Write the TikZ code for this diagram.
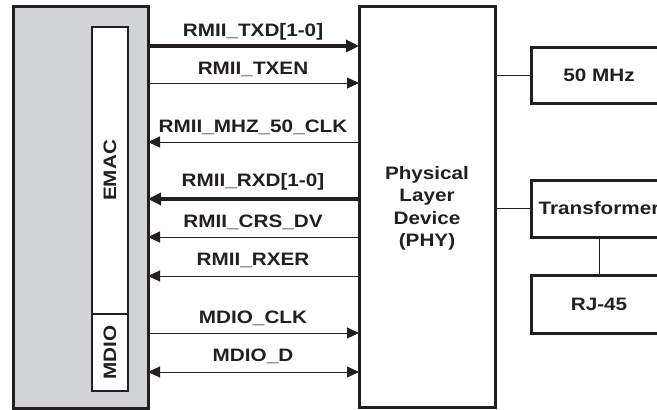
\documentclass[tikz,border=0pt]{standalone}
\usepackage{fontspec}
\setmainfont{Liberation Sans}[FakeStretch=1.15]
\usetikzlibrary{arrows.meta}
\definecolor{ink}{HTML}{231F20}
\definecolor{macgray}{HTML}{D1D3D4}
\begin{document}
\begin{tikzpicture}[x=1pt,y=-1pt,
  font=\fontsize{18}{22.5}\selectfont\bfseries,
  box/.style={draw=ink,line width=3pt,anchor=north west,outer sep=0pt,inner sep=0pt},
  inbox/.style={draw=ink,line width=2pt,fill=white,anchor=north west,outer sep=0pt,inner sep=0pt},
  sig/.style={draw=ink,line width=1pt,-{Triangle[length=12pt,width=11pt]}},
  bus/.style={draw=ink,line width=3.2pt,-{Triangle[length=13pt,width=12pt]}},
  bidir/.style={draw=ink,line width=1pt,{Triangle[length=12pt,width=11pt]}-{Triangle[length=12pt,width=11pt]}},
  wire/.style={draw=ink,line width=1pt},
  lbl/.style={text=ink,anchor=base,inner sep=0pt}]
\useasboundingbox (0,0) rectangle (657,410);
\begin{scope}
\clip (0,0) rectangle (657,410);
% MAC block
\node[box,fill=macgray,minimum width=135pt,minimum height=402pt] (mac) at (13,6) {};
\node[inbox,minimum width=36pt,minimum height=287pt] (emac) at (92,27) {};
\node[inbox,minimum width=36pt,minimum height=77pt] (mdio) at (92,314) {};
\node[text=ink,rotate=90] (emactxt) at (emac.center) {EMAC};
\node[text=ink,rotate=90] (mdiotxt) at (mdio.center) {MDIO};
% PHY
\node[box,minimum width=136pt,minimum height=401pt] (phy) at (359,6) {};
\node[text=ink,align=center] (phytxt) at ([yshift=-2pt]phy.center) {Physical\\Layer\\Device\\(PHY)};
% right blocks
\node[box,minimum width=138pt,minimum height=56pt] (osc) at (531,47) {};
\node[text=ink] (osctxt) at ([xshift=-1pt]osc.center) {50 MHz};
\node[box,minimum width=138pt,minimum height=57pt] (xfmr) at (531,180) {};
\node[text=ink] (xfmrtxt) at ([xshift=-1pt]xfmr.center) {Transformer};
\node[box,minimum width=138pt,minimum height=58pt] (rj) at (531,275) {};
\node[text=ink] (rjtxt) at ([xshift=-1pt]rj.center) {RJ-45};
\end{scope}
% connections right side
\draw[wire] (phy.east |- osc.west) -- (osc.west);
\draw[wire] (phy.east |- xfmr.west) -- (xfmr.west);
\draw[wire] (xfmr.south -| 599,0) -- (rj.north -| 599,0);
% signals
\coordinate (L1) at (mac.east |- 0,46);   \coordinate (R1) at (phy.west |- 0,46);
\coordinate (L2) at (mac.east |- 0,83);   \coordinate (R2) at (phy.west |- 0,83);
\coordinate (L3) at (mac.east |- 0,142);  \coordinate (R3) at (phy.west |- 0,142);
\coordinate (L4) at (mac.east |- 0,199);  \coordinate (R4) at (phy.west |- 0,199);
\coordinate (L5) at (mac.east |- 0,237);  \coordinate (R5) at (phy.west |- 0,237);
\coordinate (L6) at (mac.east |- 0,276);  \coordinate (R6) at (phy.west |- 0,276);
\coordinate (L7) at (mac.east |- 0,333);  \coordinate (R7) at (phy.west |- 0,333);
\coordinate (L8) at (mac.east |- 0,372);  \coordinate (R8) at (phy.west |- 0,372);
\draw[bus] (L1) -- (R1);
\draw[sig] (L2) -- (R2);
\draw[sig] (R3) -- (L3);
\draw[bus] (R4) -- (L4);
\draw[sig] (R5) -- (L5);
\draw[sig] (R6) -- (L6);
\draw[sig] (L7) -- (R7);
\draw[bidir] (L8) -- (R8);
\node[lbl] (t1) at (253,36) {RMII\_TXD[1-0]};
\node[lbl] (t2) at (253,74) {RMII\_TXEN};
\node[lbl] (t3) at (253,132) {RMII\_MHZ\_50\_CLK};
\node[lbl] (t4) at (253,186) {RMII\_RXD[1-0]};
\node[lbl] (t5) at (253,227) {RMII\_CRS\_DV};
\node[lbl] (t6) at (253,265) {RMII\_RXER};
\node[lbl] (t7) at (253,323) {MDIO\_CLK};
\node[lbl] (t8) at (253,361) {MDIO\_D};
\end{tikzpicture}
\end{document}
